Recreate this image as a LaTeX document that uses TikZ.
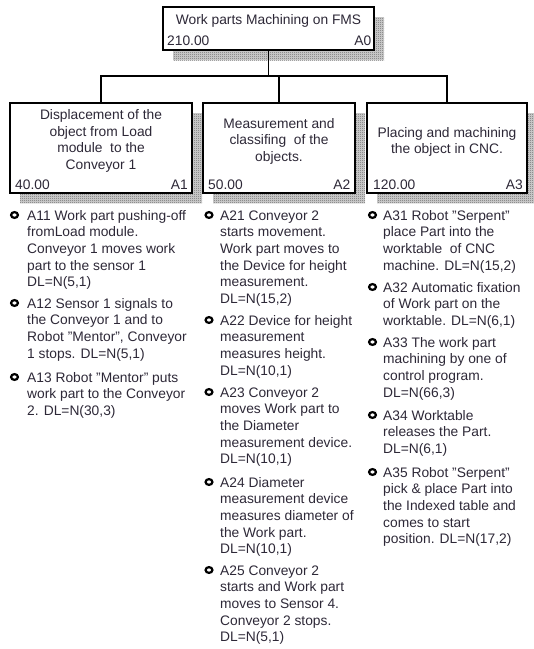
\documentclass[tikz,border=0pt]{standalone}
\usepackage{fontspec}
\setmainfont{Liberation Sans}
\usetikzlibrary{patterns.meta}
\definecolor{txt}{RGB}{45,40,55}
\tikzdeclarepattern{name=checker, type=uncolored, bottom left={(0pt,0pt)}, top right={(2pt,2pt)}, tile size={(2pt,2pt)}, code={\fill (0pt,0pt) rectangle (1pt,1pt); \fill (1pt,1pt) rectangle (2pt,2pt);}}
\newcommand\fl{\rule{0pt}{10.5pt}}
\begin{document}
\begin{tikzpicture}[x=1pt,y=-1pt,
  box/.style={draw=black, line width=1.9pt, fill=white, inner sep=0},
  shade/.style={fill=black!15, postaction={pattern={checker}, pattern color=black!75}},
  wire/.style={line width=1.7pt},
  lbl/.style={font=\fontsize{13.8}{16.6}\selectfont, text=txt, inner sep=0},
  ttl/.style={lbl, align=center, anchor=north},
  item/.style={lbl, align=left, anchor=north west},
  num/.style={lbl, anchor=base west},
  code/.style={lbl, anchor=base east},
  dot/.style={line width=2.2pt, draw=black}
]
\useasboundingbox (0,0) rectangle (534,649);
\newcommand\bitem[5]{\draw[dot] (#2,#4-5) ellipse [x radius=3.4pt, y radius=2.9pt];
  \node[item] (#1) at (#3,#4-10.5) {\fl #5};}
% shadows
\fill[shade] (173,17) rectangle (384,60);
\fill[shade] (20,113) rectangle (202,203);
\fill[shade] (213,113) rectangle (365,203);
\fill[shade] (377,113) rectangle (537,203);
% boxes
\node[box, minimum width=211pt, minimum height=43pt] (A0) at (268.5,28.5) {};
\node[box, minimum width=182pt, minimum height=90pt] (A1) at (101,148) {};
\node[box, minimum width=152pt, minimum height=90pt] (A2) at (279,148) {};
\node[box, minimum width=160pt, minimum height=90pt] (A3) at (447,148) {};
% connectors
\coordinate (j) at (268.5,76);
\draw[wire] (A0.south) -- (j);
\draw[wire] (A1.north) -- (A1.north |- j) -- (A3.north |- j) -- (A3.north);
\draw[wire] (A2.north) -- (A2.north |- j);
% box texts
\node[ttl] (t0) at (268.5,24-10.5) {\fl Work parts Machining on FMS};
\node[num] (n0) at (167,45) {210.00};
\node[code] (c0) at (371.5,45) {A0};
\node[ttl] (t1) at (101,119.5-10.5) {\fl Displacement of the\\object from Load\\module\ \ to the\\Conveyor 1};
\node[num] (n1) at (15,189.5) {40.00};
\node[code] (c1) at (188,189.5) {A1};
\node[ttl] (t2) at (279,128-10.5) {\fl Measurement and\\classifing\ \ of the\\objects.};
\node[num] (n2) at (208,189.5) {50.00};
\node[code] (c2) at (350.5,189.5) {A2};
\node[ttl] (t3) at (447,137-10.5) {\fl Placing and machining\\the object in CNC.};
\node[num] (n3) at (373,189.5) {120.00};
\node[code] (c3) at (523,189.5) {A3};
% column 1
\bitem{i11}{14.5}{27}{220}{A11 Work part pushing-off\\fromLoad module.\\Conveyor 1 moves work\\part to the sensor 1\\DL=N(5,1)}
\bitem{i12}{14.5}{27}{308}{A12 Sensor 1 signals to\\the Conveyor 1 and to\\Robot "Mentor", Conveyor\\1 stops. DL=N(5,1)}
\bitem{i13}{14.5}{27}{382}{A13 Robot "Mentor" puts\\work part to the Conveyor\\2. DL=N(30,3)}
% column 2
\bitem{i21}{209}{220}{220}{A21 Conveyor 2\\starts movement.\\Work part moves to\\the Device for height\\measurement.\\DL=N(15,2)}
\bitem{i22}{209}{220}{325}{A22 Device for height\\measurement\\measures height.\\DL=N(10,1)}
\bitem{i23}{209}{220}{397}{A23 Conveyor 2\\moves Work part to\\the Diameter\\measurement device.\\DL=N(10,1)}
\bitem{i24}{209}{220}{487}{A24 Diameter\\measurement device\\measures diameter of\\the Work part.\\DL=N(10,1)}
\bitem{i25}{209}{220}{575}{A25 Conveyor 2\\starts and Work part\\moves to Sensor 4.\\Conveyor 2 stops.\\DL=N(5,1)}
% column 3
\bitem{i31}{372.5}{383}{220}{A31 Robot "Serpent"\\place Part into the\\worktable\ \ of CNC\\machine. DL=N(15,2)}
\bitem{i32}{372.5}{383}{292}{A32 Automatic fixation\\of Work part on the\\worktable. DL=N(6,1)}
\bitem{i33}{372.5}{383}{347}{A33 The work part\\machining by one of\\control program.\\DL=N(66,3)}
\bitem{i34}{372.5}{383}{420}{A34 Worktable\\releases the Part.\\DL=N(6,1)}
\bitem{i35}{372.5}{383}{477}{A35 Robot "Serpent"\\pick \& place Part into\\the Indexed table and\\comes to start\\position. DL=N(17,2)}
\end{tikzpicture}
\end{document}
